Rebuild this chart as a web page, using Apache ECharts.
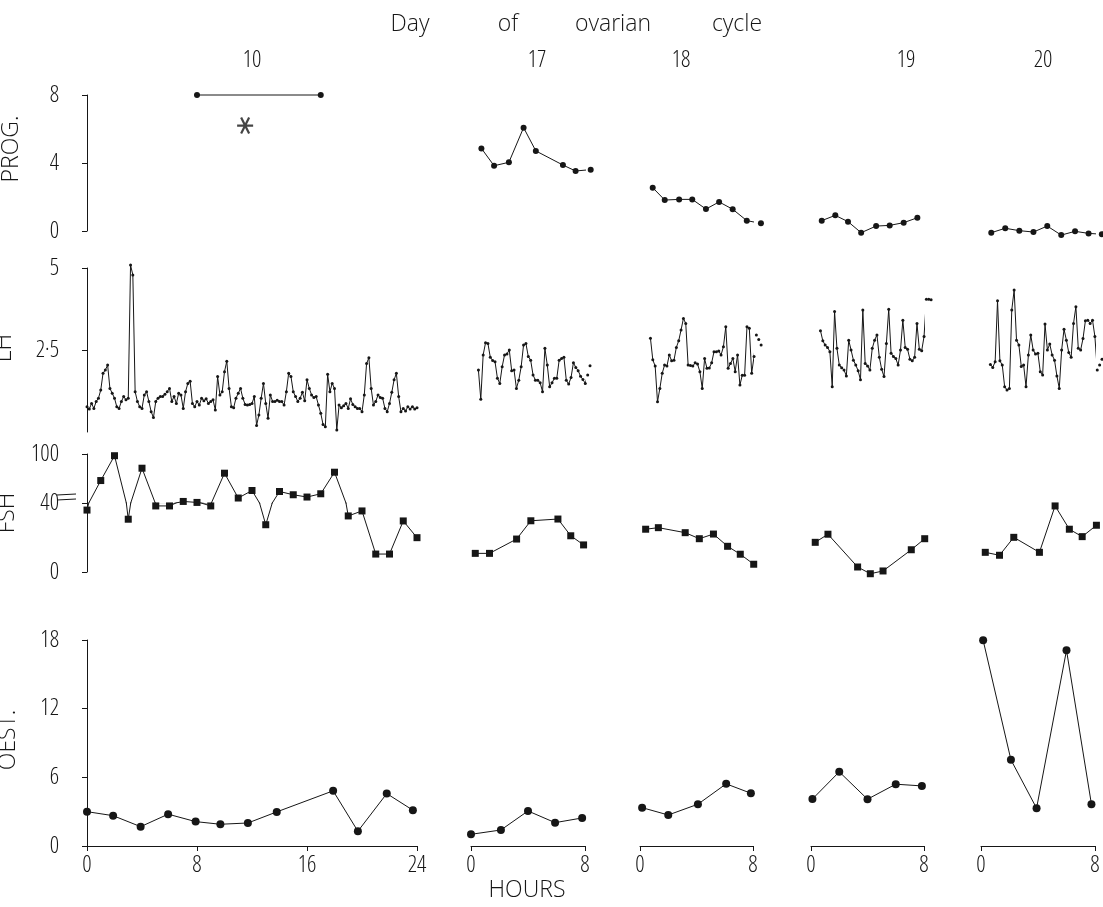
<!DOCTYPE html>
<html><head><meta charset="utf-8">
<script src="https://cdn.jsdelivr.net/npm/echarts@6/dist/echarts.min.js"></script>
<style>html,body{margin:0;padding:0;background:#fff}#c{width:1103px;height:907px}</style>
</head><body><div id="c"></div>
<script>
// ---------------- DATA ----------------
const days = ['10', '17', '18', '19', '20'];
const rowNames = ['PROG.', 'LH', 'FSH', 'OEST.'];
const titleWords = ['Day', 'of', 'ovarian', 'cycle'];
const xLabel = 'HOURS';

// Progesterone (hours, values)
const prog10T = [8, 17];            const prog10V = [8, 8];
const progStar = [[11.5, 6.2]];
const prog17T = [0.73, 1.62, 2.66, 3.69, 4.55, 6.45, 7.34, 8.4];
const prog17V = [4.86, 3.84, 4.04, 6.08, 4.71, 3.88, 3.53, 3.61];
const prog18T = [0.9, 1.75, 2.77, 3.7, 4.67, 5.6, 6.56, 7.56, 8.56];
const prog18V = [2.55, 1.82, 1.86, 1.86, 1.29, 1.71, 1.28, 0.61, 0.45];
const prog19T = [0.76, 1.72, 2.62, 3.55, 4.61, 5.57, 6.56, 7.53];
const prog19V = [0.61, 0.92, 0.55, -0.1, 0.29, 0.33, 0.49, 0.78];
const prog20T = [0.72, 1.7, 2.69, 3.68, 4.65, 5.63, 6.6, 7.55, 8.48];
const prog20V = [-0.1, 0.16, 0.02, -0.06, 0.29, -0.24, -0.02, -0.14, -0.19];

// LH: 10-minute samples, first sample time (h)
const LH_STEP = 1 / 6;
const lh10Start = 0;
const lh10V = [0.77,0.70,0.87,0.72,0.93,1.03,1.28,1.79,1.89,2.04,1.33,1.18,1.03,0.77,0.72,0.93,1.08,0.98,1.03,5.09,
  4.79,1.23,0.93,0.77,0.72,1.13,1.23,0.93,0.62,0.44,0.93,1.03,1.08,1.08,1.15,1.23,1.33,0.93,1.08,0.87,
  1.18,1.13,0.72,1.23,1.48,1.55,0.87,0.77,0.93,0.82,1.03,0.95,1.01,0.87,0.93,0.98,0.67,1.69,1.13,1.23,
  1.84,2.16,1.33,0.77,0.74,1.03,1.18,1.33,1.03,0.84,0.82,0.84,0.87,1.08,0.20,0.52,1.03,1.48,0.87,0.42,
  1.13,0.93,0.93,0.97,0.93,0.93,0.82,1.23,1.79,1.69,1.23,1.08,0.93,1.03,1.21,0.95,1.59,1.33,1.13,1.05,
  1.08,0.82,0.57,0.23,0.16,1.76,1.23,1.48,1.33,0.06,0.82,0.74,0.80,0.87,0.72,1.01,0.84,0.77,0.72,0.72,
  0.62,1.13,2.09,2.26,1.33,0.82,0.93,1.13,1.05,1.03,0.72,0.62,0.87,1.21,1.59,1.79,1.08,0.62,0.72,0.64,
  0.77,0.70,0.77,0.70,0.74];
const lh17Start = 0.52;
const lh17V = [1.89,1.00,2.35,2.72,2.70,2.28,2.18,2.14,1.64,1.48,1.99,2.35,2.38,2.50,1.87,1.89,1.33,1.58,1.99,2.65,
  2.70,2.30,2.19,1.74,1.58,1.58,1.50,1.23,2.55,2.04,1.38,1.50,1.64,1.64,2.19,2.24,2.28,1.58,1.46,1.66,
  2.11,1.97,1.87,1.70,1.60,1.48,1.74,2.02];
const lh18Start = 0.74;
const lh18V = [2.86,2.20,2.01,0.92,1.33,1.79,2.04,2.01,2.35,2.17,2.19,2.58,2.78,3.11,3.46,3.31,2.04,2.03,2.01,2.11,
  2.07,1.84,1.33,2.24,1.94,1.95,2.11,2.45,2.45,2.47,2.35,2.60,3.21,1.94,2.09,2.24,1.84,2.35,1.43,1.73,
  1.73,3.21,3.16,1.79,2.30,2.96,2.82,2.65];
const lh19Start = 0.67;
const lh19V = [3.09,2.78,2.65,2.58,2.45,1.38,3.67,2.55,2.04,1.96,1.89,1.71,2.80,2.50,2.19,2.04,1.87,1.59,3.72,2.09,
  2.01,1.89,2.55,2.80,2.96,2.28,1.91,1.69,2.70,3.74,2.40,2.30,2.24,2.04,2.50,3.41,2.58,2.52,2.22,2.17,
  2.28,3.31,2.52,2.48,2.91,4.05,4.05,4.03];
const lh20Start = 0.66;
const lh20V = [2.06,1.97,2.14,4.00,2.17,2.04,1.38,1.28,1.33,3.72,4.33,2.80,2.65,2.00,2.04,1.38,2.35,2.96,2.50,2.38,
  2.40,1.84,1.74,3.29,2.50,2.68,2.35,2.19,1.71,1.33,2.50,3.13,2.80,2.42,2.28,3.31,3.82,2.55,2.50,2.85,
  3.39,3.41,3.31,3.41,2.91,1.89,2.04,2.22];

// FSH (hours, values)
const fsh10T = [0,1,2,3,4,5,6,7,8,9,10,11,12,13,14,15,16,17,18,19,20,21,22,23,24];
const fsh10V = [35.9,67.5,97.9,30.6,82.6,38.3,38.3,41.9,40.7,38.3,76.5,46.1,55.3,27.4,54.1,50.1,47.3,51.3,77.7,32.5,35.4,10.4,10.4,29.6,19.9];
const fsh17T = [0.3, 1.3, 3.2, 4.2, 6.1, 7.0, 7.9];
const fsh17V = [10.8, 10.8, 19.1, 29.7, 30.7, 21.0, 15.7];
const fsh18T = [0.4, 1.3, 3.2, 4.2, 5.2, 6.2, 7.1, 8.05];
const fsh18V = [24.8, 25.7, 22.8, 19.3, 22.0, 14.9, 10.3, 4.5];
const fsh19T = [0.3, 1.2, 3.3, 4.2, 5.1, 7.1, 8.05];
const fsh19V = [17.2, 21.9, 2.9, -1.0, 0.6, 12.9, 19.3];
const fsh20T = [0.3, 1.3, 2.3, 4.1, 5.2, 6.2, 7.1, 8.1];
const fsh20V = [11.4, 9.7, 20.1, 11.4, 38.3, 24.8, 20.5, 27.1];

// Oestradiol (hours, values)
const oest10T = [0, 1.9, 3.9, 5.9, 7.9, 9.7, 11.7, 13.8, 17.9, 19.7, 21.8, 23.7];
const oest10V = [3.0, 2.65, 1.69, 2.78, 2.13, 1.9, 2.01, 2.98, 4.82, 1.29, 4.58, 3.13];
const oest17T = [0, 2.1, 4.0, 5.9, 7.8];     const oest17V = [1.02, 1.40, 3.06, 2.04, 2.45];
const oest18T = [0.15, 2.0, 4.1, 6.1, 7.85]; const oest18V = [3.35, 2.71, 3.65, 5.43, 4.61];
const oest19T = [0.1, 2.0, 4.0, 6.0, 7.85];  const oest19V = [4.1, 6.48, 4.09, 5.4, 5.25];
const oest20T = [0.15, 2.1, 3.9, 6.0, 7.75]; const oest20V = [17.98, 7.53, 3.3, 17.1, 3.65];

// axis ranges
const xMax = [24, 8, 8, 8, 8];
const xInterval = 8;
const progRange = [0, 8, 4];
const lhRange = [0, 5, 2.5];
const fshHiRange = [40, 100, 60];
const fshLoRange = [0, 40, 40];
const oestRange = [0, 18, 6];

// ---------------- LAYOUT ----------------
const FAMILY = "'Open Sans','DejaVu Sans Condensed',sans-serif";
const WEIGHT = '300 condensed';
const WORD_WEIGHT = '300';
const INK = '#161616';
const colLeft = [87, 471, 640, 811, 981];
const colWidth = [330, 114, 113, 113, 114];
const rowBox = [ // top, height
  [95, 136],   // PROG
  [268, 164],  // LH
  [454, 49],   // FSH upper (40-100)
  [503, 69],   // FSH lower (0-40)
  [640, 206]   // OEST
];
const rowRanges = [progRange, lhRange, fshHiRange, fshLoRange, oestRange];

const pairs = (t, v) => t.map((x, i) => [x, v[i]]);
const lhPairs = (start, v) => v.map((y, i) => [+(start + i * LH_STEP).toFixed(4), y]);

const labelStyle = { color: INK, fontFamily: FAMILY, fontWeight: WEIGHT, fontSize: 23 };
const grids = [], xAxes = [], yAxes = [];
for (let r = 0; r < 5; r++) {
  for (let c = 0; c < 5; c++) {
    grids.push({ left: colLeft[c], top: rowBox[r][0], width: colWidth[c], height: rowBox[r][1] });
    const gi = grids.length - 1;
    xAxes.push({
      gridIndex: gi, type: 'value', min: 0, max: xMax[c], interval: xInterval,
      show: r === 4,
      axisLine: { show: true, lineStyle: { color: INK, width: 1 } },
      axisTick: { show: true, length: 5, lineStyle: { color: INK } },
      splitLine: { show: false },
      axisLabel: Object.assign({ margin: 8 }, labelStyle)
    });
    const rg = rowRanges[r];
    const ya = {
      gridIndex: gi, type: 'value', min: rg[0], max: rg[1], interval: rg[2],
      show: c === 0, offset: 20,
      axisLine: { show: true, lineStyle: { color: INK, width: 1 } },
      axisTick: { show: true, length: 5, lineStyle: { color: INK } },
      splitLine: { show: false },
      axisLabel: Object.assign({ margin: 8, formatter: v => (v === 2.5 ? '2\u00b75' : String(v)) }, labelStyle)
    };
    if (r === 1 || r === 2) ya.axisLabel.showMinLabel = false;
    yAxes.push(ya);
  }
}
const gIdx = (r, c) => r * 5 + c;

const series = [];
function addLine(r, c, data, symbol, size, extra) {
  const gi = gIdx(r, c);
  series.push(Object.assign({
    type: 'line', xAxisIndex: gi, yAxisIndex: gi, data,
    symbol, symbolSize: size, showSymbol: true, clip: false,
    lineStyle: { color: INK, width: 1 },
    itemStyle: { color: INK },
    animation: false, silent: true
  }, extra || {}));
}
// PROG
const progSets = [[prog10T, prog10V], [prog17T, prog17V], [prog18T, prog18V], [prog19T, prog19V], [prog20T, prog20V]];
progSets.forEach((s, c) => addLine(0, c, pairs(s[0], s[1]), 'circle', 6));
series.push({
  type: 'scatter', xAxisIndex: 0, yAxisIndex: 0, data: progStar,
  symbol: 'path://M0,10L20,10M5,1.34L15,18.66M5,18.66L15,1.34', symbolSize: 16,
  itemStyle: { color: 'none', borderColor: INK, borderWidth: 2.2 },
  animation: false, silent: true
});
// LH
const lhSets = [[lh10Start, lh10V], [lh17Start, lh17V], [lh18Start, lh18V], [lh19Start, lh19V], [lh20Start, lh20V]];
lhSets.forEach((s, c) => addLine(1, c, lhPairs(s[0], s[1]), 'circle', 3));
// FSH
const fsh10 = pairs(fsh10T, fsh10V);
addLine(2, 0, fsh10, 'rect', 7, { clip: true });
addLine(3, 0, fsh10, 'rect', 7, { clip: true });
const fshSets = [null, [fsh17T, fsh17V], [fsh18T, fsh18V], [fsh19T, fsh19V], [fsh20T, fsh20V]];
for (let c = 1; c < 5; c++) addLine(3, c, pairs(fshSets[c][0], fshSets[c][1]), 'rect', 7);
// OEST
const oestSets = [[oest10T, oest10V], [oest17T, oest17V], [oest18T, oest18V], [oest19T, oest19V], [oest20T, oest20V]];
oestSets.forEach((s, c) => addLine(4, c, pairs(s[0], s[1]), 'circle', 8));

// ---------------- TEXT / DECORATION ----------------
const txt = (text, x, y, size, weight, extra) => Object.assign({
  type: 'text', x, y, silent: true,
  style: { text, fill: INK, font: `${weight} ${size}px ${FAMILY}`, textAlign: 'center', textVerticalAlign: 'middle' }
}, extra || {});
const graphic = [];
const titleX = [410, 508, 613, 737];
titleWords.forEach((w, i) => graphic.push(txt(w, titleX[i], 24, 23, WORD_WEIGHT)));
const dayX = [252, 537, 681, 906, 1043];
days.forEach((d, i) => graphic.push(txt(d, dayX[i], 60, 23, WEIGHT)));
const rowLabelPos = [[11, 149], [4, 348], [7, 513], [8, 740]];
rowNames.forEach((n, i) => graphic.push(txt(n, rowLabelPos[i][0], rowLabelPos[i][1], 23, WORD_WEIGHT, { rotation: Math.PI / 2 })));
graphic.push(txt(xLabel, 527, 890, 23, WORD_WEIGHT));
// FSH axis break
graphic.push({ type: 'rect', silent: true, shape: { x: 62, y: 495, width: 10, height: 4 }, style: { fill: '#fff' } });
graphic.push({ type: 'line', silent: true, shape: { x1: 57, y1: 495, x2: 76, y2: 494 }, style: { stroke: INK, lineWidth: 1 } });
graphic.push({ type: 'line', silent: true, shape: { x1: 57, y1: 500, x2: 76, y2: 499 }, style: { stroke: INK, lineWidth: 1 } });

const chart = echarts.init(document.getElementById('c'), null, { renderer: 'canvas' });
chart.setOption({
  backgroundColor: '#fff',
  animation: false,
  grid: grids, xAxis: xAxes, yAxis: yAxes, series, graphic
});
</script></body></html>
